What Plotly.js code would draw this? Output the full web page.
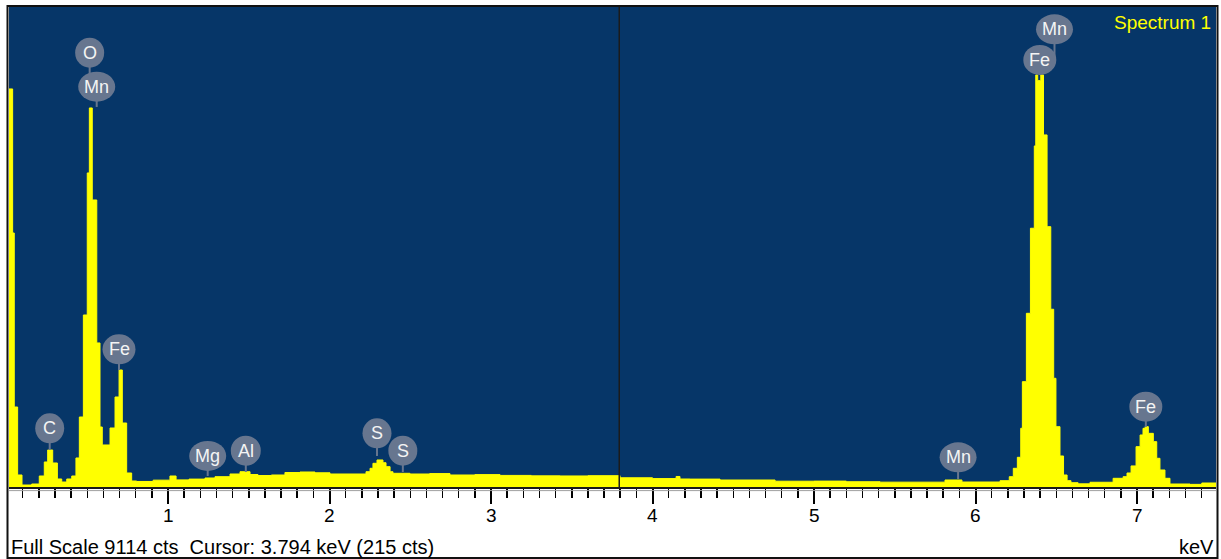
<!DOCTYPE html>
<html>
<head>
<meta charset="utf-8">
<script src="https://cdn.plot.ly/plotly-3.0.1.min.js"></script>
<style>html,body{margin:0;padding:0;background:#fff;}#chart{width:1221px;height:559px;}</style>
</head>
<body>
<div id="chart"></div>
<script>
// Spectrum: each count applies from edgeKeV[i] to edgeKeV[i+1]
const edgeKeV = [
  0.0155,0.038,0.048,0.069,0.096,0.156,0.203,0.234,0.255,0.286,0.315,0.342,0.373,0.404,0.430,0.451,0.476,0.500,0.513,0.531,
  0.559,0.579,0.593,0.641,0.672,0.697,0.717,0.744,0.775,
  0.806,0.908,1.012,1.050,1.130,1.229,1.291,1.384,1.446,1.508,1.557,1.640,1.724,1.817,1.910,2.003,
  2.226,2.251,2.269,2.294,2.331,2.350,2.375,2.393,2.498,2.620,2.746,2.900,3.056,3.250,3.427,3.600,3.799,4.000,
  4.146,4.170,4.232,4.418,4.759,5.000,5.200,5.409,5.811,5.916,6.152,
  6.209,6.234,6.259,6.280,6.290,6.315,6.340,6.364,6.373,6.385,6.404,6.421,6.443,6.466,6.484,6.498,6.523,6.545,6.567,6.591,6.635,
  6.709,6.852,6.914,6.938,6.963,6.994,7.019,7.037,7.050,7.070,7.101,7.122,7.142,7.173,7.204,7.328,7.401,7.489
];
const counts = [
  7558,4823,1519,228,38,57,209,475,703,456,152,95,152,209,551,1329,3266,5963,7197,5450,
  2735,1139,798,1120,1709,2222,1215,266,114,
  105,130,209,135,150,171,196,247,290,237,218,228,275,285,270,247,
  290,355,450,513,461,386,290,260,247,255,228,235,220,212,210,215,175,160,
  200,152,150,133,110,112,100,92,133,95,120,
  196,355,564,1115,2000,3298,4913,6476,7824,7716,7824,6685,4943,3375,2064,1145,589,228,120,82,60,
  90,165,196,266,400,766,988,1114,1146,1019,861,545,323,165,57,50,76,76
];

// Peak identification labels
const labelNames  = ['O','Mn','C','Fe','Mg','Al','S','S','Mn','Fe','Mn','Fe'];
const labelKeV    = [0.515,0.5585,0.2675,0.6966,1.2458,1.4817,2.294,2.454,5.892,6.398,6.489,7.0545];
const labelTipCts = [7602,7216,703,2222,209,285,589,285,152,7823,8108,1139];
const labelCts    = [8247,7602,1115,2615,589,689,1020,689,564,8108,8691,1525];

const tickVals = [1,2,3,4,5,6,7];
const tickText = ['1','2','3','4','5','6','7'];

const fullScale = 9114;
const cursorKeV = 3.794;
const cursorCts = 215;
const spectrumName = 'Spectrum 1';

const FONT = 'Liberation Sans, Arial, sans-serif';
const bubbleColor = '#67768f';
const shapes = [];
const annotations = [];

labelNames.forEach((n, i) => {
  shapes.push({type:'line', xref:'x', yref:'y', x0:labelKeV[i], x1:labelKeV[i],
    y0:labelTipCts[i], y1:labelCts[i], line:{color:bubbleColor, width:2}, layer:'above'});
});
labelNames.forEach((n, i) => {
  const w = n.length > 1 ? (n === 'Al' ? 30 : (n === 'Fe' ? 33 : 37)) : 29;
  shapes.push({type:'circle', xref:'x', yref:'y', xsizemode:'pixel', ysizemode:'pixel',
    xanchor:labelKeV[i], yanchor:labelCts[i], x0:-w/2, x1:w/2, y0:-15, y1:15,
    fillcolor:bubbleColor, line:{width:0}, layer:'above'});
  annotations.push({xref:'x', yref:'y', x:labelKeV[i], y:labelCts[i], text:n, showarrow:false,
    xanchor:'center', yanchor:'middle', font:{family:FONT, size:18, color:'#f4f4f4'}});
});

// tick labels
tickVals.forEach((v, i) => {
  annotations.push({xref:'x', yref:'paper', x:v, y:(487-515)/480, text:tickText[i], showarrow:false,
    xanchor:'center', yanchor:'middle', font:{family:FONT, size:19, color:'#000'}});
});

// cursor line
shapes.push({type:'line', xref:'x', yref:'paper', x0:cursorKeV, x1:cursorKeV, y0:0, y1:1,
  line:{color:'#1c1c1c', width:1.5}, layer:'above'});
// light line under axis
shapes.push({type:'line', xref:'paper', yref:'paper', x0:0, x1:1, y0:-0.0075, y1:-0.0075,
  line:{color:'#a0a0a0', width:1}, layer:'above'});
// outer frame
shapes.push({type:'rect', xref:'paper', yref:'paper', x0:-1.5/1207, x1:1+1.5/1207, y0:(487-558)/480, y1:1+1/480,
  line:{color:'#111', width:2}, fillcolor:'rgba(0,0,0,0)', layer:'above'});

annotations.push({xref:'paper', yref:'paper', x:0, y:(487-547)/480, xanchor:'left', yanchor:'middle', showarrow:false,
  text:'Full Scale ' + fullScale + ' cts  Cursor: ' + cursorKeV.toFixed(3) + ' keV (' + cursorCts + ' cts)',
  font:{family:FONT, size:20, color:'#000'}});
annotations.push({xref:'paper', yref:'paper', x:1, y:(487-547)/480, xanchor:'right', yanchor:'middle', showarrow:false,
  text:'keV', font:{family:FONT, size:20, color:'#000'}});
annotations.push({xref:'paper', yref:'paper', x:1, y:1, xanchor:'right', yanchor:'top', xshift:-3, yshift:-3, showarrow:false,
  text:spectrumName, font:{family:FONT, size:19, color:'#ffff00'}});

const trace = {
  type:'scatter', mode:'lines', x:edgeKeV, y:counts, line:{shape:'hv', color:'#ffff00', width:1},
  fill:'tozeroy', fillcolor:'#ffff00', hoverinfo:'x+y'
};

const layout = {
  width:1221, height:559,
  margin:{l:9, r:5, t:7, b:72, pad:0},
  paper_bgcolor:'#ffffff', plot_bgcolor:'#063668',
  showlegend:false,
  xaxis:{range:[0.0155, 7.489], tickvals:tickVals, ticktext:tickText, showticklabels:false,
    ticks:'outside', ticklen:15, tickwidth:2,
    tickcolor:'#000', showgrid:false, zeroline:false, showline:true, linecolor:'#1a1a1a', linewidth:2,
    minor:{dtick:0.1, tick0:0, ticks:'outside', ticklen:9, tickwidth:1.5, tickcolor:'#000', showgrid:false},
    fixedrange:true},
  yaxis:{range:[0, fullScale], showgrid:false, zeroline:false, showticklabels:false, ticks:'', showline:false, fixedrange:true},
  shapes:shapes, annotations:annotations
};

Plotly.newPlot('chart', [trace], layout, {displayModeBar:false, staticPlot:true});
</script>
</body>
</html>
